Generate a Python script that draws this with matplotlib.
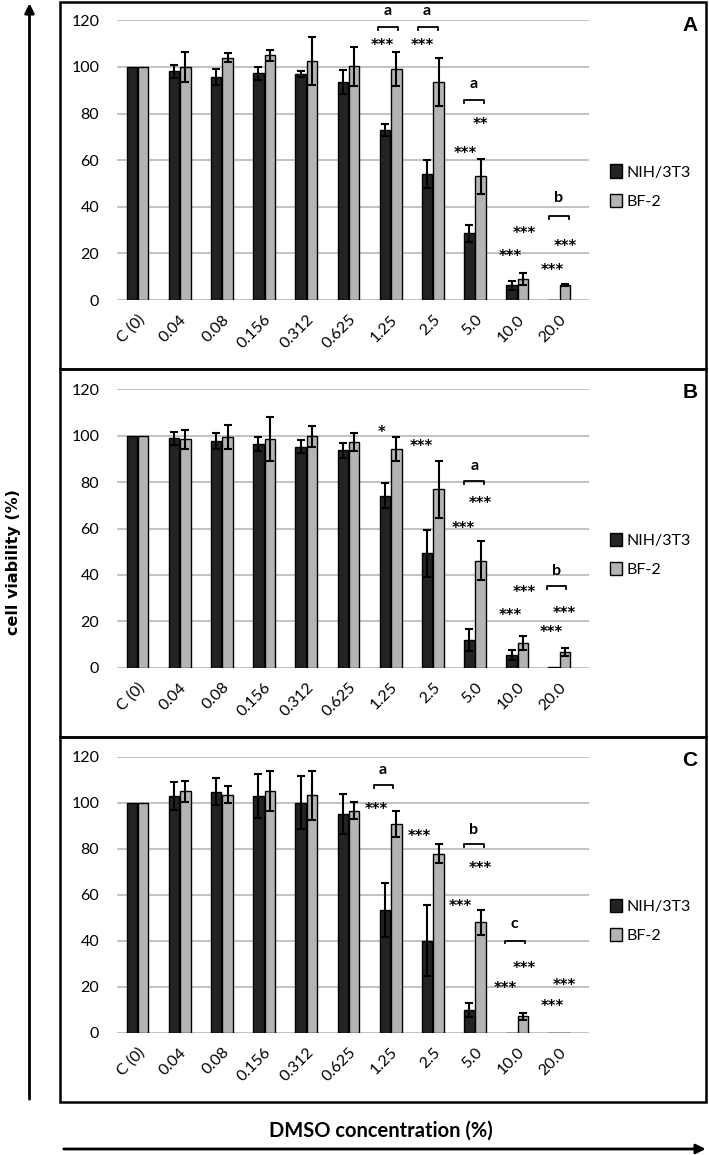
import numpy as np
import matplotlib.pyplot as plt
from matplotlib.patches import Patch, Rectangle, FancyArrowPatch

cats = ['C (0)', '0.04', '0.08', '0.156', '0.312', '0.625', '1.25', '2.5', '5.0', '10.0', '20.0']

# panel A
nih_A = [100, 98.2, 95.6, 97.3, 97.0, 93.4, 73.0, 54.0, 28.6, 6.4, 0.2]
nih_A_err = [0, 2.8, 3.4, 2.8, 1.4, 5.2, 2.6, 5.9, 3.7, 1.9, 0]
bf_A = [100, 100, 104, 105, 102.6, 100.3, 99.1, 93.7, 53.0, 9.0, 6.4]
bf_A_err = [0, 6.5, 2.1, 2.4, 10.4, 8.4, 7.5, 10.3, 7.7, 2.7, 0.5]

# panel B
nih_B = [100, 98.9, 97.7, 96.3, 95.3, 93.7, 74.2, 49.3, 11.8, 5.5, 0.2]
nih_B_err = [0, 2.9, 3.6, 3.0, 2.9, 3.2, 5.4, 10.1, 4.7, 2.1, 0]
bf_B = [100, 98.4, 99.3, 98.6, 99.7, 97.4, 94.4, 76.9, 46.1, 10.8, 6.6]
bf_B_err = [0, 4.1, 5.2, 9.5, 4.5, 3.8, 5.2, 12.2, 8.4, 3.0, 1.7]

# panel C
nih_C = [100, 103.0, 104.8, 102.8, 100.0, 95.2, 53.2, 40.0, 9.9, 0, 0]
nih_C_err = [0, 6.0, 5.9, 9.5, 11.6, 8.6, 11.7, 15.5, 2.9, 0, 0]
bf_C = [100, 104.9, 103.5, 105.2, 103.2, 96.5, 90.6, 77.8, 48.0, 7.2, 0]
bf_C_err = [0, 4.5, 3.7, 8.6, 10.7, 3.8, 5.6, 4.2, 5.5, 1.5, 0]

# significance marks (x in category units, y in % viability)
stars_A = [(5.79, 111, '***'), (6.76, 111, '***'), (8.12, 77.5, '**'), (7.77, 65, '***'),
           (9.16, 30.5, '***'), (8.83, 20.6, '***'), (10.13, 24.8, '***'), (9.82, 14.6, '***')]
letters_A = [(5.93, 123.9, 'a'), (6.86, 123.9, 'a'), (7.97, 92.6, 'a'), (9.99, 44.3, 'b')]
brackets_A = [(5.70, 6.17, 117), (6.65, 7.12, 117), (7.74, 8.21, 85.8), (9.75, 10.22, 36.1)]

stars_B = [(5.79, 103.2, '*'), (6.72, 97.2, '***'), (8.12, 73.0, '***'), (7.71, 61.9, '***'),
           (9.16, 34.3, '***'), (8.83, 24.3, '***'), (10.11, 25.3, '***'), (9.80, 17.2, '***')]
letters_B = [(7.99, 87.1, 'a'), (9.92, 42.4, 'b')]
brackets_B = [(7.74, 8.21, 80.5), (9.70, 10.15, 35.2)]

stars_C = [(5.67, 99.0, '***'), (6.67, 87.4, '***'), (8.12, 73.6, '***'), (7.64, 57.0, '***'),
           (9.16, 29.9, '***'), (8.71, 21.4, '***'), (10.11, 22.5, '***'), (9.82, 13.5, '***')]
letters_C = [(5.82, 114.5, 'a'), (7.97, 88.6, 'b'), (8.94, 47.5, 'c')]
brackets_C = [(5.60, 6.05, 107.7), (7.74, 8.21, 82.0), (8.71, 9.18, 40.0)]

DARK = '#232323'
LIGHT = '#b4b4b4'
FONT = 'Lato'

W, H = 709, 1155


def PlotPanel(fig, top_px, bottom_px, nih, nih_err, bf, bf_err, stars, letters, brackets):

	ax = fig.add_axes([116.7/W, 1-bottom_px/H, 472.3/W, (bottom_px-top_px)/H])
	x = np.arange(len(cats))
	wd = 0.25
	off = 0.135

	ax.bar(x-off, nih, wd, color=DARK, edgecolor='black', linewidth=1.0, zorder=3)
	ax.bar(x+off, bf, wd, color=LIGHT, edgecolor='black', linewidth=1.0, zorder=3)

	for xs, vals, errs in [(x-off, nih, nih_err), (x+off, bf, bf_err)]:
		errs = np.array(errs)
		keep = errs > 0
		ax.errorbar(xs[keep], np.array(vals)[keep], yerr=errs[keep], fmt='none',
			ecolor='black', elinewidth=1.5, capsize=2.6, capthick=1.5, zorder=4)

	ax.set_xlim(-0.493, 10.70)
	ax.set_ylim(0, 120)
	ax.set_yticks(range(0, 121, 20))
	ax.yaxis.grid(True, color='#bdbdbd', linewidth=1.3, zorder=0)
	ax.set_axisbelow(True)
	for s in ax.spines.values():
		s.set_visible(False)
	ax.tick_params(axis='both', length=0)
	ax.tick_params(axis='y', pad=12.5)
	ax.tick_params(axis='x', pad=9)
	ax.set_xticks(x)
	ax.set_xticklabels(cats, rotation=45, ha='right', rotation_mode='anchor')
	for lab in ax.get_xticklabels() + ax.get_yticklabels():
		lab.set_fontfamily(FONT)
		lab.set_fontsize(11.5)

	for sx, sy, txt in stars:
		ax.annotate(txt, (sx, sy), xytext=(0, -6.6), textcoords='offset points',
			ha='center', va='baseline', fontsize=10.5, fontweight='bold',
			fontfamily='DejaVu Sans', annotation_clip=False, zorder=5)
	for lx, ly, txt in letters:
		dy = -4.0 if txt == 'b' else -3.0
		ax.annotate(txt, (lx, ly), xytext=(0, dy), textcoords='offset points',
			ha='center', va='baseline', fontsize=11.5, fontweight='bold',
			fontfamily=FONT, annotation_clip=False, zorder=5)
	for x0, x1, by in brackets:
		ax.plot([x0, x0, x1, x1], [by-1.2, by, by, by-1.2], color='black',
			linewidth=1.3, clip_on=False, zorder=5)

	handles = [Patch(facecolor=DARK, edgecolor='black', linewidth=1.0, label='NIH/3T3'),
		Patch(facecolor=LIGHT, edgecolor='black', linewidth=1.0, label='BF-2')]
	ax.legend(handles=handles, loc='center left', bbox_to_anchor=(1.03, 0.405),
		frameon=False, prop={'family': FONT, 'size': 11.5}, handlelength=0.75,
		handleheight=0.9, handletextpad=0.3, labelspacing=0.9, borderaxespad=0)
	return ax


fig = plt.figure(figsize=(W/100, H/100), dpi=100)

PlotPanel(fig, 20.3, 300.0, nih_A, nih_A_err, bf_A, bf_A_err, stars_A, letters_A, brackets_A)
PlotPanel(fig, 389.3, 667.7, nih_B, nih_B_err, bf_B, bf_B_err, stars_B, letters_B, brackets_B)
PlotPanel(fig, 756.7, 1032.7, nih_C, nih_C_err, bf_C, bf_C_err, stars_C, letters_C, brackets_C)

# panel frames and letters
for (t, b), name in zip([(1.5, 369), (369, 737), (737, 1101.5)], ['A', 'B', 'C']):
	fig.add_artist(Rectangle((60/W, 1-b/H), 646/W, (b-t)/H, transform=fig.transFigure,
		fill=False, edgecolor='black', linewidth=1.8))
	fig.text(690/W, 1-(t+24)/H, name, ha='center', va='center', fontsize=15,
		fontweight='bold', fontfamily='Liberation Sans')

# axis arrows
fig.add_artist(FancyArrowPatch((29.5/W, 1-1102/H), (29.5/W, 1-0.5/H), transform=fig.transFigure,
	arrowstyle='-|>', mutation_scale=14, linewidth=2, color='black'))
fig.add_artist(FancyArrowPatch((61/W, 1-1149/H), (708.5/W, 1-1149/H), transform=fig.transFigure,
	arrowstyle='-|>', mutation_scale=14, linewidth=2, color='black'))

fig.text(13.5/W, 1-562/H, 'cell viability (%)', rotation=90, ha='center', va='center',
	fontsize=11.5, fontweight='bold', fontfamily='DejaVu Sans')
fig.text(381/W, 1-1131/H, 'DMSO concentration (%)', ha='center', va='center',
	fontsize=14.5, fontweight='bold', fontfamily=FONT)

fig.savefig('out.png', dpi=100)
